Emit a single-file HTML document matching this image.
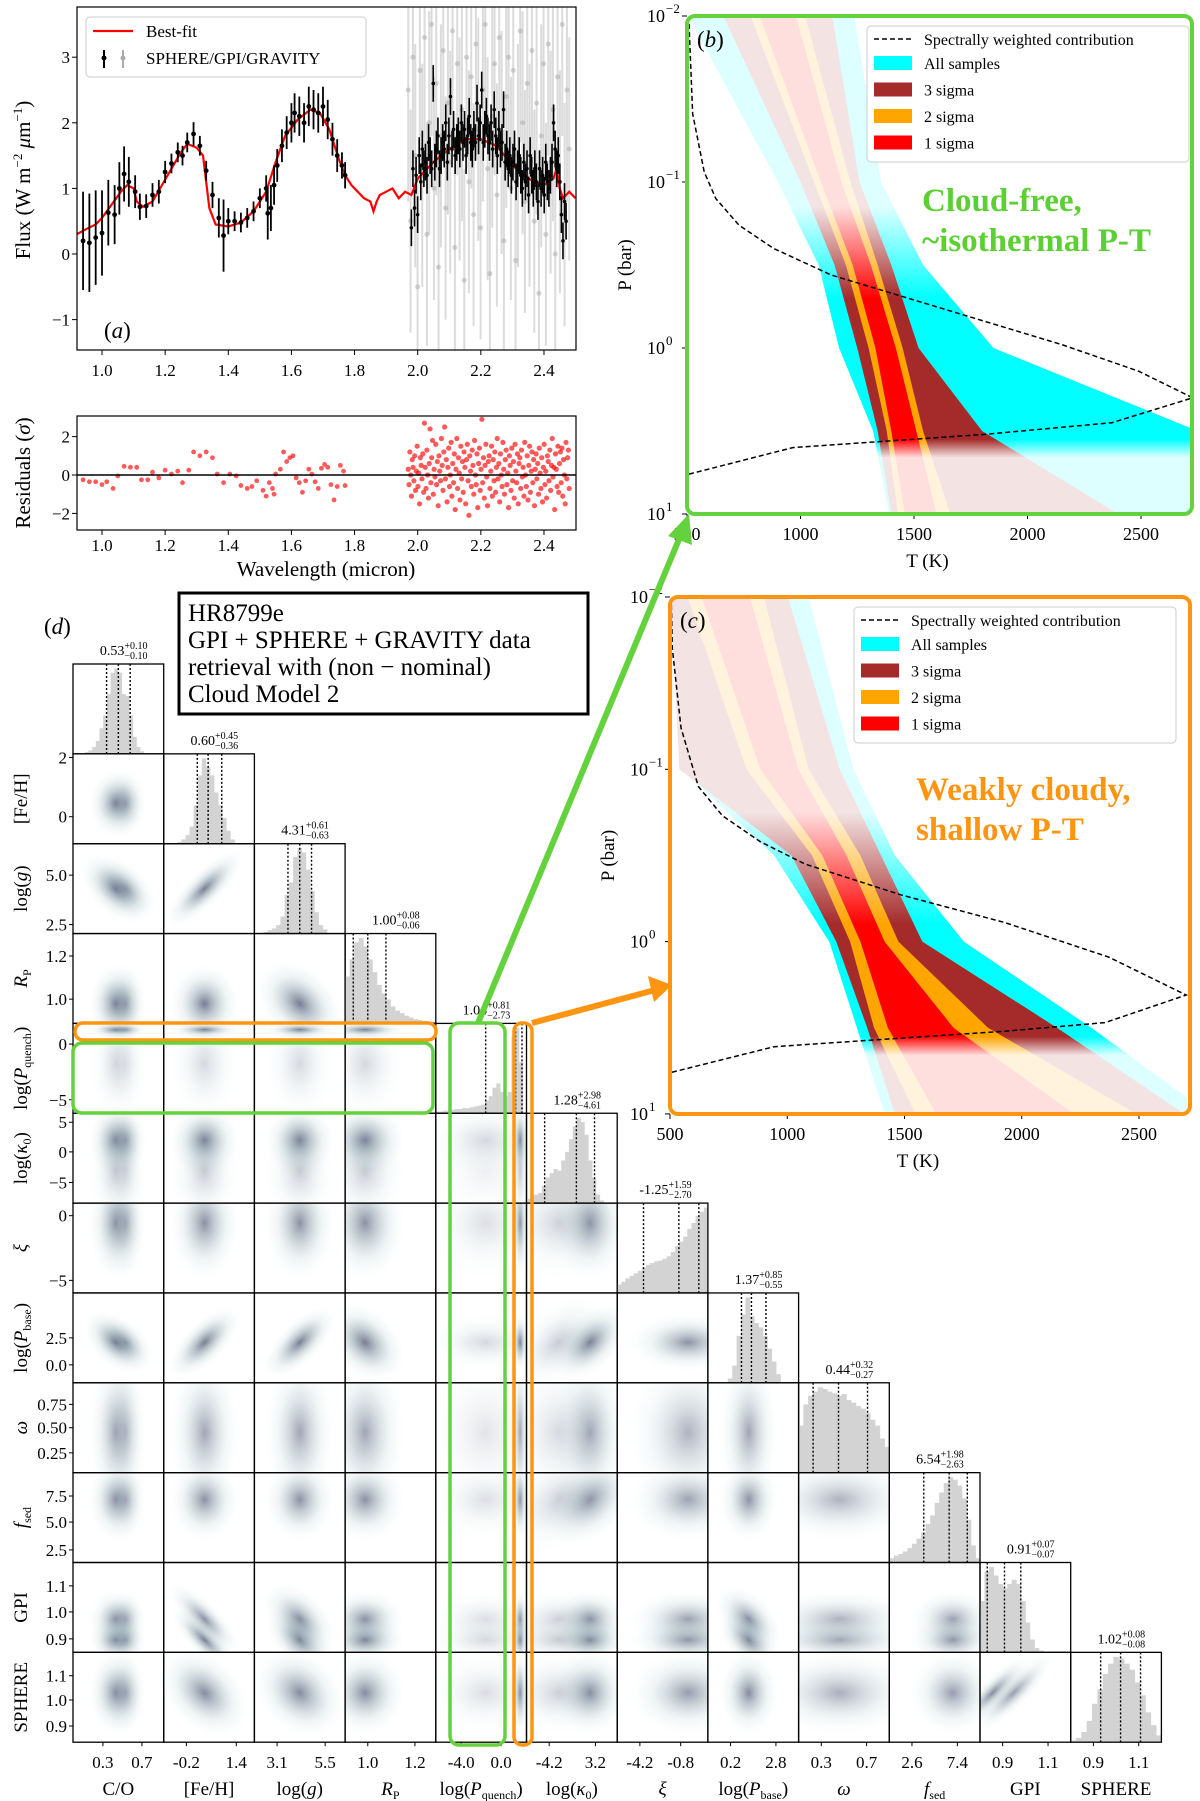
<!DOCTYPE html>
<html><head><meta charset="utf-8"><style>
html,body{margin:0;padding:0;background:#fff;}
svg{display:block;font-family:"Liberation Serif","DejaVu Serif",serif;}
</style></head><body>
<svg id="fig" width="1200" height="1801" viewBox="0 0 1200 1801" xmlns="http://www.w3.org/2000/svg">
<defs>
<clipPath id="clipA"><rect x="77" y="7" width="499" height="343"/></clipPath>
<clipPath id="clipR"><rect x="77" y="416" width="499" height="114"/></clipPath>
<clipPath id="clipB"><rect x="687" y="16" width="505" height="498" rx="8"/></clipPath>
<clipPath id="clipC"><rect x="670" y="597" width="520" height="517" rx="8"/></clipPath>
</defs>
<g id="panelA"></g>
<g id="panelB"></g>
<g id="panelC"></g>
<g id="corner"></g>
<g id="overlay"></g>
</svg>
<script>
// ---------------- DATA ----------------
const modelWl=[0.92,0.95,0.98,1.00,1.03,1.06,1.08,1.10,1.11,1.13,1.16,1.19,1.22,1.25,1.27,1.30,1.32,1.33,1.34,1.36,1.40,1.44,1.48,1.52,1.55,1.58,1.62,1.66,1.69,1.72,1.75,1.77,1.79,1.81,1.83,1.85,1.86,1.87,1.88,1.90,1.92,1.94,1.96,1.98,2.00,2.05,2.10,2.15,2.20,2.25,2.30,2.35,2.40,2.43,2.44,2.45,2.46,2.48,2.50];
const modelFlux=[0.3,0.38,0.45,0.55,0.75,0.95,1.05,1.0,0.8,0.72,0.8,1.05,1.3,1.55,1.68,1.62,1.5,1.1,0.7,0.45,0.42,0.48,0.65,0.95,1.4,1.8,2.05,2.2,2.15,1.9,1.45,1.2,1.05,0.95,0.85,0.8,0.65,0.8,0.9,0.95,1.0,0.85,0.95,0.9,1.15,1.4,1.6,1.75,1.75,1.65,1.35,1.15,1.05,1.15,1.3,1.0,0.85,0.95,0.85];
const dataWl=[0.94,0.96,0.98,1.0,1.02,1.04,1.055,1.07,1.085,1.105,1.12,1.14,1.16,1.18,1.2,1.22,1.24,1.255,1.27,1.29,1.31,1.33,1.35,1.37,1.385,1.40,1.42,1.44,1.46,1.48,1.50,1.52,1.525,1.535,1.545,1.555,1.57,1.585,1.60,1.61,1.625,1.64,1.655,1.67,1.685,1.70,1.715,1.73,1.745,1.76,1.77];
const dataFlux=[0.2,0.17,0.25,0.32,0.63,0.6,1.0,1.22,1.1,0.95,0.72,0.73,0.9,0.95,1.25,1.38,1.55,1.5,1.7,1.83,1.65,1.27,0.9,0.55,0.28,0.5,0.5,0.48,0.55,0.65,0.85,1.0,0.62,0.7,1.05,1.35,1.65,1.85,2.0,2.15,2.1,2.0,2.25,2.2,2.15,2.25,2.05,1.75,1.5,1.35,1.2];
const dataErr=[0.75,0.75,0.72,0.65,0.5,0.45,0.4,0.42,0.38,0.25,0.2,0.18,0.18,0.18,0.17,0.15,0.15,0.15,0.15,0.18,0.15,0.15,0.2,0.3,0.55,0.2,0.15,0.15,0.15,0.15,0.15,0.2,0.4,0.35,0.3,0.25,0.25,0.25,0.3,0.3,0.3,0.3,0.3,0.3,0.3,0.3,0.3,0.25,0.25,0.2,0.2];
const gravWlStart=1.98, gravWlEnd=2.47;
const gravFlux=[0.4,1.3,0.7,1.2,0.6,1.5,1.1,1.6,1.3,1.4, 1.2,1.7,1.5,1.3,2.6,1.4,1.6,1.8,1.3,1.5, 1.7,1.6,2.0,1.4,1.8,2.4,1.6,1.9,1.5,1.7, 1.8,1.6,2.0,1.7,1.9,1.5,1.8,2.1,1.7,1.6, 1.9,1.7,2.3,1.8,2.0,2.5,1.7,1.9,2.1,1.8, 1.7,2.0,1.6,2.2,1.8,1.5,1.9,1.6,1.7,2.2, 1.4,1.6,1.3,1.5,1.2,1.4,1.6,1.1,1.3,1.5, 1.2,1.0,1.4,1.1,1.3,0.9,1.5,1.2,1.0,1.3, 1.1,0.8,1.3,1.0,1.2,0.9,1.4,1.1,1.0,1.2, 1.4,2.0,1.6,1.3,1.5,1.1,0.6,0.2,0.8,0.5];
const gravErr=0.28;
const grayWlStart=1.97, grayWlEnd=2.48;
const grayFlux=[2.5,0.5,3.0,1.5,-0.5,2.8,1.2,3.3,0.3,2.0, 3.5,1.0,2.6,-0.2,1.8,3.1,0.7,2.3,1.4,3.4, 0.1,2.9,1.6,2.2,-0.4,3.0,1.1,2.7,0.6,3.2, 1.9,0.4,2.5,3.5,1.3,-0.3,2.1,2.9,0.9,3.3, 1.7,0.2,2.4,3.0,1.0,2.8,-0.1,1.5,3.4,2.0, 0.8,2.6,1.2,3.1,0.5,2.3,-0.6,1.8,2.9,0.3, 3.2,1.4,2.2,0.0,2.7,1.1,3.5,0.6,2.5,1.6];
const grayErr=1.7;
const resWl=[0.94,0.96,0.98,1.0,1.015,1.035,1.05,1.07,1.09,1.11,1.125,1.145,1.16,1.18,1.2,1.22,1.24,1.255,1.275,1.29,1.31,1.33,1.35,1.365,1.385,1.405,1.425,1.44,1.46,1.475,1.49,1.51,1.52,1.53,1.54,1.545,1.55,1.565,1.575,1.585,1.595,1.605,1.615,1.625,1.635,1.645,1.655,1.665,1.675,1.685,1.695,1.705,1.715,1.725,1.735,1.745,1.755,1.765,1.77];
const resVal=[-0.25,-0.35,-0.35,-0.5,-0.35,-0.7,-0.05,0.45,0.4,0.4,-0.25,-0.25,0.15,-0.15,0.25,0.05,0.2,-0.4,0.25,1.2,1.0,1.2,0.9,0.05,-0.4,0.05,-0.05,-0.55,-0.7,-0.6,-0.3,-0.8,-1.1,-0.4,-0.7,-1.0,0.05,0.3,1.2,0.7,0.9,1.0,-0.15,-0.4,-0.9,-0.3,0.3,0.05,-0.35,-0.7,0.35,0.55,0.4,-0.5,-1.3,-0.6,0.5,0.2,-0.55];
const resGravStart=1.97, resGravEnd=2.48;
const resGrav=[0.3,-0.5,1.2,0.0,-1.1,0.8,0.4,-0.3,1.0,-0.8,0.2,1.5,-0.6,0.1,-1.5,0.9,0.5,-0.2,1.1,-0.9,
2.7,0.4,-0.7,1.3,0.0,-1.2,0.6,2.4,-0.4,0.9,1.8,-1.0,0.3,-0.1,1.6,-0.5,0.7,-1.6,1.0,0.2,
-0.3,1.9,0.5,-0.8,1.2,2.5,-0.2,0.8,-1.4,0.4,1.4,-0.6,0.0,1.7,-1.1,0.6,-0.4,1.1,-1.8,0.3,
1.9,-0.7,0.9,0.1,-1.3,1.5,-0.2,0.7,-0.9,1.2,0.4,-1.5,0.8,1.6,-0.3,-2.1,1.0,0.2,-0.6,1.3,
0.5,-1.0,1.8,0.0,-0.5,1.1,-1.7,0.6,1.4,-0.8,0.3,2.9,-0.4,0.9,-1.2,0.5,1.6,-0.1,-1.6,0.7,
1.0,-0.7,0.2,1.5,-1.1,0.8,-0.3,1.2,-0.9,0.4,1.9,-0.2,0.6,-1.4,1.1,0.0,-0.6,1.7,0.3,-1.0,
0.8,1.3,-0.5,0.1,-1.7,1.0,0.5,-0.8,1.4,-0.3,0.7,-1.2,1.6,0.2,-0.4,1.1,-1.5,0.6,0.9,-0.7,
1.3,-0.1,0.4,-1.1,1.7,0.0,-0.6,1.0,-1.3,0.5,1.5,-0.9,0.2,1.2,-0.4,0.8,-1.6,0.3,1.1,-0.2,
0.6,-1.0,1.4,0.1,-0.7,0.9,-1.4,0.4,1.6,-0.5,0.2,-1.2,1.0,0.7,-0.3,1.3,-0.8,0.5,1.9,-0.1,
0.4,-1.8,1.1,0.3,-0.6,1.5,-0.9,0.6,1.2,-0.4,1.4,-1.1,0.8,0.0,-1.5,1.7,-0.2,0.9,1.3,-0.7];
const wlTicks=[1.0,1.2,1.4,1.6,1.8,2.0,2.2,2.4];
const fluxTicks=[-1,0,1,2,3];
const resTicks=[-2,0,2];

// PT data
const ptLogP=[-2,-1,-0.5,0,0.5,1];
const bAllL=[505,900,1080,1170,1320,1390], bAllR=[1237,1355,1540,1850,2750,3200];
const b3L=[660,1000,1150,1250,1340,1400], b3R=[1140,1260,1400,1520,1800,2400];
const b2L=[780,1060,1200,1300,1380,1430], b2R=[1020,1220,1340,1450,1540,1660];
const b1L=[820,1090,1230,1330,1400,1460], b1R=[980,1180,1310,1420,1510,1600];
const bContT=[505,508,525,576,627,729,881,1135,1474,1813,2152,2490,2728,2372,1813,966,508];
const bContP=[-2,-1.98,-1.41,-1.06,-0.90,-0.74,-0.60,-0.44,-0.30,-0.16,-0.02,0.14,0.30,0.45,0.52,0.60,0.76];
const cAllL=[503,547,944,1179,1297,1415], cAllR=[1091,1282,1459,1753,2297,2800];
const c3L=[503,540,1018,1209,1341,1459], c3R=[1003,1224,1400,1576,2150,2694];
const c2L=[576,826,1106,1268,1370,1547], c2R=[900,1091,1312,1474,1856,2488];
const c1L=[635,885,1150,1312,1429,1635], c1R=[841,1047,1253,1415,1709,2224];
const cContT=[505,510,547,621,724,885,1076,1488,1929,2371,2701,2356,1929,1488,944,503];
const cContP=[-2,-1.70,-1.24,-0.90,-0.73,-0.58,-0.45,-0.27,-0.11,0.09,0.31,0.47,0.52,0.56,0.61,0.76];
const tTicks=[500,1000,1500,2000,2500];
const pTicks=[-2,-1,0,1];

// Corner data
const paramLabels=['C/O','[Fe/H]','log(<tspan font-style="italic">g</tspan>)','<tspan font-style="italic">R</tspan><tspan dy="4" font-size="12">P</tspan>','log(<tspan font-style="italic">P</tspan><tspan dy="4" font-size="12">quench</tspan><tspan dy="-4">)</tspan>','log(<tspan font-style="italic">κ</tspan><tspan dy="4" font-size="12">0</tspan><tspan dy="-4">)</tspan>','<tspan font-style="italic">ξ</tspan>','log(<tspan font-style="italic">P</tspan><tspan dy="4" font-size="12">base</tspan><tspan dy="-4">)</tspan>','<tspan font-style="italic">ω</tspan>','<tspan font-style="italic">f</tspan><tspan dy="4" font-size="12">sed</tspan>','GPI','SPHERE'];
const medians=['0.53','0.60','4.31','1.00','1.04','1.28','-1.25','1.37','0.44','6.54','0.91','1.02'];
const errPlus=['+0.10','+0.45','+0.61','+0.08','+0.81','+2.98','+1.59','+0.85','+0.32','+1.98','+0.07','+0.08'];
const errMinus=['−0.10','−0.36','−0.63','−0.06','−2.73','−4.61','−2.70','−0.55','−0.27','−2.63','−0.07','−0.08'];
const histStart=[0.13,0.15,0.1,0,0,0,0,0.22,0,0,0,0];
const histEnd=[0.78,0.78,0.8,1,1,0.85,1,0.8,1,1,0.7,1];
const histBins=[
[0.02,0.04,0.08,0.15,0.3,0.45,0.7,0.95,1.0,0.95,0.7,0.68,0.45,0.2,0.08,0.03],
[0.02,0.05,0.1,0.2,0.45,0.8,1.0,0.9,0.8,0.6,0.45,0.3,0.15,0.05],
[0.02,0.04,0.06,0.1,0.2,0.45,0.6,0.9,1.0,0.95,0.75,0.5,0.25,0.1,0.05],
[0.55,0.75,0.95,1.0,0.9,0.75,0.6,0.45,0.35,0.28,0.2,0.15,0.12,0.09,0.07,0.05,0.04,0.03,0.02,0.02],
[0.02,0.02,0.03,0.03,0.04,0.05,0.05,0.06,0.06,0.07,0.08,0.09,0.1,0.15,0.2,0.3,0.35,0.25,0.2,0.25,0.9,1.0,0.6,0.0],
[0.05,0.08,0.1,0.12,0.2,0.3,0.35,0.4,0.38,0.5,0.6,0.75,0.9,1.0,0.95,0.8,0.5,0.3,0.1,0.03],
[0.1,0.13,0.17,0.2,0.23,0.26,0.3,0.33,0.35,0.37,0.38,0.4,0.43,0.48,0.55,0.6,0.66,0.75,0.82,0.9,0.95,1.0],
[0.05,0.2,0.55,0.8,1.0,0.78,0.7,0.65,0.55,0.4,0.25,0.1],
[0.55,0.8,0.9,0.95,1.0,0.98,0.95,0.93,0.9,0.92,0.85,0.82,0.78,0.75,0.7,0.62,0.55,0.4,0.3],
[0.05,0.08,0.1,0.13,0.17,0.22,0.28,0.35,0.45,0.55,0.7,0.82,0.93,1.0,0.97,0.9,0.75,0.5,0.2,0.05],
[0.6,0.95,1.0,0.9,0.8,0.75,0.8,0.85,0.8,0.6,0.35,0.15,0.05,0.02],
[0.02,0.05,0.12,0.25,0.45,0.62,0.8,0.92,1.0,0.98,0.92,0.85,0.7,0.55,0.35,0.2,0.08]];
const quantiles=[[0.37,0.5,0.63],[0.37,0.49,0.64],[0.37,0.5,0.63],[0.09,0.25,0.45],[0.55,0.88,0.95],[0.2,0.55,0.75],[0.29,0.68,0.9],[0.37,0.48,0.64],[0.16,0.44,0.76],[0.38,0.66,0.86],[0.08,0.27,0.45],[0.33,0.55,0.77]];
// posterior modes per parameter: [centerFrac, spreadFrac, weight]
const modes=[
[[0.47,0.1,1.0],[0.58,0.08,0.6]],
[[0.45,0.13,1.0]],
[[0.5,0.13,1.0]],
[[0.22,0.15,1.0]],
[[0.93,0.03,1.0],[0.55,0.22,0.3]],
[[0.7,0.14,1.0],[0.35,0.2,0.4]],
[[0.78,0.22,0.85]],
[[0.45,0.11,1.0]],
[[0.45,0.3,0.7]],
[[0.7,0.16,0.85]],
[[0.14,0.09,1.0],[0.37,0.11,0.85]],
[[0.55,0.16,0.9]]];
// correlations [row, col, rho]
const corrRow=[2,2,3,7,7,7,7,7,10,10,10,11,11,11,9];
const corrCol=[0,1,2,0,1,2,3,5,1,2,7,10,1,2,5];
const corrRho=[-0.6,0.85,-0.5,-0.6,0.75,0.75,-0.5,0.6,-0.85,-0.6,-0.6,0.9,-0.5,-0.4,0.5];
const rowTickLabels=[[],['2','0'],['5.0','2.5'],['1.2','1.0'],['0','−5'],['5','0','−5'],['0','−5'],['2.5','0.0'],['0.75','0.50','0.25'],['7.5','5.0','2.5'],['1.1','1.0','0.9'],['1.1','1.0','0.9']];
const rowTickFrac=[[],[0.04,0.7],[0.35,0.9],[0.25,0.73],[0.23,0.85],[0.1,0.43,0.77],[0.14,0.86],[0.5,0.8],[0.24,0.5,0.78],[0.26,0.55,0.86],[0.26,0.55,0.85],[0.26,0.53,0.82]];
const colTickLabels=[['0.3','0.7'],['-0.2','1.4'],['3.1','5.5'],['1.0','1.2'],['-4.0','0.0'],['-4.2','3.2'],['-4.2','-0.8'],['0.2','2.8'],['0.3','0.7'],['2.6','7.4'],['0.9','1.1'],['0.9','1.1']];
const colTickFrac=[[0.33,0.76],[0.25,0.8],[0.25,0.78],[0.25,0.77],[0.28,0.72],[0.25,0.76],[0.25,0.7],[0.25,0.75],[0.25,0.75],[0.25,0.75],[0.25,0.75],[0.25,0.75]];

// ---------------- HELPERS ----------------
const NS='http://www.w3.org/2000/svg';
function mk(parent,tag,attrs,name){
  const el=document.createElementNS(NS,tag);
  for(const k in attrs) el.setAttribute(k,attrs[k]);
  
  
  parent.appendChild(el);
  return el;
}
function tx(parent,x,y,html,attrs,name){
  const a=Object.assign({x:x,y:y},attrs||{});
  const el=mk(parent,'text',a,name);
  el.innerHTML=html;
  return el;
}
function lin(n,a,b){const r=[];for(let i=0;i<n;i++)r.push(a+(b-a)*i/(n-1));return r;}

// ---------------- PANEL A ----------------
const A=document.getElementById('panelA');
const xA=l=>102+(l-1.0)*315.7, yA=f=>254-f*65.6, yR=r=>475-r*19.2;
const gA=mk(A,'g',{'clip-path':'url(#clipA)'},'spectrum-plot-area');
const grayWl=lin(grayFlux.length,grayWlStart,grayWlEnd);
grayFlux.forEach((f,i)=>{
  mk(gA,'line',{x1:xA(grayWl[i]),x2:xA(grayWl[i]),y1:yA(f-grayErr),y2:yA(f+grayErr),stroke:'#999','stroke-width':2,'stroke-opacity':0.35},'gray-errorbar');
  mk(gA,'circle',{cx:xA(grayWl[i]),cy:yA(f),r:2.5,fill:'#aaa','fill-opacity':0.5},'gray-point');
});
mk(gA,'polyline',{points:modelWl.map((l,i)=>xA(l)+','+yA(modelFlux[i])).join(' '),fill:'none',stroke:'#ff0000','stroke-width':2.2},'best-fit-line');
dataWl.forEach((l,i)=>{
  mk(gA,'line',{x1:xA(l),x2:xA(l),y1:yA(dataFlux[i]-dataErr[i]),y2:yA(dataFlux[i]+dataErr[i]),stroke:'#000','stroke-width':1.8},'data-errorbar');
  mk(gA,'circle',{cx:xA(l),cy:yA(dataFlux[i]),r:2.4,fill:'#000'},'data-point');
});
const gravWl=lin(gravFlux.length,gravWlStart,gravWlEnd);
gravFlux.forEach((f,i)=>{
  mk(gA,'line',{x1:xA(gravWl[i]),x2:xA(gravWl[i]),y1:yA(f-gravErr),y2:yA(f+gravErr),stroke:'#000','stroke-width':1.6},'gravity-errorbar');
  mk(gA,'circle',{cx:xA(gravWl[i]),cy:yA(f),r:1.8,fill:'#000'},'gravity-point');
});
mk(A,'rect',{x:77,y:7,width:499,height:343,fill:'none',stroke:'#000','stroke-width':1.2},'spectrum-axes-frame');
wlTicks.forEach(t=>{
  mk(A,'line',{x1:xA(t),x2:xA(t),y1:350,y2:355,stroke:'#000'},'x-tick');
  tx(A,xA(t),376,t.toFixed(1),{'font-size':17,'text-anchor':'middle'},'x-tick-label');
  mk(A,'line',{x1:xA(t),x2:xA(t),y1:530,y2:535,stroke:'#000'},'res-x-tick');
  tx(A,xA(t),551,t.toFixed(1),{'font-size':17,'text-anchor':'middle'},'res-x-tick-label');
});
fluxTicks.forEach(t=>{
  mk(A,'line',{x1:72,x2:77,y1:yA(t),y2:yA(t),stroke:'#000'},'y-tick');
  tx(A,70,yA(t)+6,t<0?'−'+Math.abs(t):String(t),{'font-size':17,'text-anchor':'end'},'y-tick-label');
});
tx(A,0,0,'Flux (W m<tspan dy="-8" font-size="13">−2</tspan><tspan dy="8"> </tspan><tspan font-style="italic">μ</tspan>m<tspan dy="-8" font-size="13">−1</tspan><tspan dy="8">)</tspan>',{'font-size':21,'text-anchor':'middle',transform:'translate(30,180) rotate(-90)'},'y-axis-title');
mk(A,'rect',{x:86,y:17,width:280,height:60,rx:4,fill:'#fff','fill-opacity':0.8,stroke:'#ccc'},'legend-box');
mk(A,'line',{x1:93,x2:133,y1:31,y2:31,stroke:'#ff0000','stroke-width':2.2},'legend-best-fit-swatch');
tx(A,146,37,'Best-fit',{'font-size':17},'legend-best-fit-label');
mk(A,'line',{x1:104,x2:104,y1:50,y2:68,stroke:'#000','stroke-width':2},'legend-data-swatch');
mk(A,'circle',{cx:104,cy:58,r:2.5,fill:'#000'},'legend-data-dot');
mk(A,'line',{x1:123,x2:123,y1:50,y2:68,stroke:'#aaa','stroke-width':2},'legend-gray-swatch');
mk(A,'circle',{cx:123,cy:58,r:2.5,fill:'#aaa'},'legend-gray-dot');
tx(A,146,64,'SPHERE/GPI/GRAVITY',{'font-size':17},'legend-data-label');
tx(A,104,338,'(<tspan font-style="italic">a</tspan>)',{'font-size':23},'panel-a-label');
const gR=mk(A,'g',{'clip-path':'url(#clipR)'},'residual-plot-area');
resWl.forEach((l,i)=>mk(gR,'circle',{cx:xA(l),cy:yR(resVal[i]),r:2.4,fill:'#ff0000','fill-opacity':0.65},'residual-point'));
const rgWl=lin(resGrav.length,resGravStart,resGravEnd);
resGrav.forEach((r,i)=>mk(gR,'circle',{cx:xA(rgWl[i]),cy:yR(r),r:2.6,fill:'#ff0000','fill-opacity':0.65},'residual-gravity-point'));
mk(A,'line',{x1:77,x2:576,y1:yR(0),y2:yR(0),stroke:'#000','stroke-width':1.6},'residual-zero-line');
mk(A,'rect',{x:77,y:416,width:499,height:114,fill:'none',stroke:'#000','stroke-width':1.2},'residual-axes-frame');
resTicks.forEach(t=>{
  mk(A,'line',{x1:72,x2:77,y1:yR(t),y2:yR(t),stroke:'#000'},'res-y-tick');
  tx(A,70,yR(t)+6,t<0?'−'+Math.abs(t):String(t),{'font-size':17,'text-anchor':'end'},'res-y-tick-label');
});
tx(A,0,0,'Residuals (<tspan font-style="italic">σ</tspan>)',{'font-size':21,'text-anchor':'middle',transform:'translate(30,473) rotate(-90)'},'residual-y-title');
tx(A,326,576,'Wavelength (micron)',{'font-size':21,'text-anchor':'middle'},'x-axis-title');

// ---------------- PT PANELS ----------------
function ptPanel(G,box,T0,pxK,pxDec,bands,contT,contP,clip,strongTop,strongBot,fadeTop,fadeBot,frameColor,label,annot,annotColor,annotXY,legXY,name){
  const xs=T=>box.x+(T-T0)*pxK, ys=p=>box.y+(p+2)*pxDec;
  const gid='g'+name, mid='m'+name;
  const defs=mk(G,'defs',{},'defs');
  const lg=mk(defs,'linearGradient',{id:gid,x1:0,y1:box.y,x2:0,y2:box.y+box.h,gradientUnits:'userSpaceOnUse'},'fade-gradient');
  const off=p=>((ys(p)-box.y)/box.h).toFixed(4);
  [[0,0.13],[off(fadeTop),0.13],[off(strongTop),1],[off(strongBot),1],[off(fadeBot),0.13],[1,0.13]].forEach(s=>mk(lg,'stop',{offset:s[0],'stop-color':'#fff','stop-opacity':s[1]},'stop'));
  const m=mk(defs,'mask',{id:mid,maskUnits:'userSpaceOnUse',x:0,y:0,width:1200,height:1801},'fade-mask');
  mk(m,'rect',{x:box.x,y:box.y,width:box.w,height:box.h,fill:'url(#'+gid+')'},'mask-rect');
  const g=mk(G,'g',{'clip-path':'url(#'+clip+')'},'pt-plot-area');
  const gb=mk(g,'g',{mask:'url(#'+mid+')'},'pt-bands');
  const colors=['#00ffff','#a52a2a','#ffa500','#ff0000'], names=['all-samples-band','3-sigma-band','2-sigma-band','1-sigma-band'];
  bands.forEach((b,k)=>{
    const pts=b[0].map((t,i)=>xs(t)+','+ys(ptLogP[i])).concat(b[1].map((t,i)=>xs(t)+','+ys(ptLogP[i])).reverse());
    mk(gb,'polygon',{points:pts.join(' '),fill:colors[k]},names[k]);
  });
  mk(g,'polyline',{points:contT.map((t,i)=>xs(t)+','+ys(contP[i])).join(' '),fill:'none',stroke:'#000','stroke-width':1.5,'stroke-dasharray':'5,3'},'contribution-line');
  tTicks.forEach(t=>{
    mk(G,'line',{x1:xs(t),x2:xs(t),y1:box.y+box.h,y2:box.y+box.h+5,stroke:'#000'},'t-tick');
    tx(G,xs(t),box.y+box.h+26,String(t),{'font-size':18,'text-anchor':'middle'},'t-tick-label');
  });
  pTicks.forEach(p=>{
    mk(G,'line',{x1:box.x-5,x2:box.x,y1:ys(p),y2:ys(p),stroke:'#000'},'p-tick');
    tx(G,box.x-22,ys(p)+6,'10',{'font-size':18,'text-anchor':'end'},'p-tick-label');
    tx(G,box.x-21,ys(p)-3,p<0?'−'+Math.abs(p):String(p),{'font-size':13},'p-tick-exponent');
  });
  tx(G,box.x+box.w/2-12,box.y+box.h+53,'T (K)',{'font-size':19,'text-anchor':'middle'},'t-axis-title');
  tx(G,0,0,'P (bar)',{'font-size':19,'text-anchor':'middle',transform:'translate('+(box.x-56)+','+(box.y+box.h/2)+') rotate(-90)'},'p-axis-title');
  mk(G,'rect',{x:box.x,y:box.y,width:box.w,height:box.h,rx:8,fill:'none',stroke:frameColor,'stroke-width':4},'panel-frame');
  tx(G,box.x+10,box.y+31,'(<tspan font-style="italic">'+label+'</tspan>)',{'font-size':23},'panel-label');
  const L=mk(G,'g',{},'pt-legend');
  const lx=legXY[0], ly=legXY[1];
  mk(L,'rect',{x:lx,y:ly,width:322,height:136,rx:4,fill:'#fff','fill-opacity':0.85,stroke:'#ccc'},'legend-box');
  mk(L,'line',{x1:lx+7,x2:lx+45,y1:ly+13,y2:ly+13,stroke:'#000','stroke-width':1.5,'stroke-dasharray':'5,3'},'legend-contribution-swatch');
  tx(L,lx+57,ly+19,'Spectrally weighted contribution',{'font-size':16},'legend-contribution-label');
  const ln=['All samples','3 sigma','2 sigma','1 sigma'];
  ln.forEach((s,k)=>{
    mk(L,'rect',{x:lx+7,y:ly+30+k*26.5,width:38,height:14,fill:colors[k]},'legend-swatch');
    tx(L,lx+57,ly+43+k*26.5,s,{'font-size':16},'legend-label');
  });
  tx(G,annotXY[0],annotXY[1],annot[0],{'font-size':33,'font-weight':'bold',fill:annotColor},'annotation-line1');
  tx(G,annotXY[0],annotXY[1]+40,annot[1],{'font-size':33,'font-weight':'bold',fill:annotColor},'annotation-line2');
}
ptPanel(document.getElementById('panelB'),{x:687,y:16,w:505,h:498},500,0.227,166,
  [[bAllL,bAllR],[b3L,b3R],[b2L,b2R],[b1L,b1R]],bContT,bContP,'clipB',-0.3,0.55,-0.85,0.66,'#64d23c','b',
  ['Cloud-free,','~isothermal P-T'],'#5ccf33',[922,211],[867,26],'B');
ptPanel(document.getElementById('panelC'),{x:670,y:597,w:520,h:517},500,0.2345,172.3,
  [[cAllL,cAllR],[c3L,c3R],[c2L,c2R],[c1L,c1R]],cContT,cContP,'clipC',-0.1,0.55,-0.75,0.66,'#ff9410','c',
  ['Weakly cloudy,','shallow P-T'],'#ff9410',[916,800],[854,607],'C');

// ---------------- CORNER ----------------
const K=document.getElementById('corner');
const X0=73,Y0=664,CW=90.7,CH=89.85,N=12;
const cdefs=mk(K,'defs',{},'corner-defs');
const rg=mk(cdefs,'radialGradient',{id:'blob'},'blob-gradient');
[[0,'#3a3f62',0.8],[0.3,'#5d7587',0.5],[0.65,'#a4c0c4',0.22],[1,'#d4e4e6',0]].forEach(s=>mk(rg,'stop',{offset:s[0],'stop-color':s[1],'stop-opacity':s[2]},'stop'));
function corr(i,j){for(let k=0;k<corrRow.length;k++) if(corrRow[k]===i&&corrCol[k]===j) return corrRho[k]; return 0;}
for(let i=0;i<N;i++){
  for(let j=0;j<=i;j++){
    const x=X0+j*CW, y=Y0+i*CH;
    if(i===j){
      const bins=histBins[i], a=histStart[i], b=histEnd[i], bw=(b-a)/bins.length*CW;
      bins.forEach((h,k)=>mk(K,'rect',{x:x+a*CW+k*bw,y:y+CH-h*0.95*CH,width:bw+0.4,height:h*0.95*CH,fill:'#d3d3d3'},'hist-bar'));
      quantiles[i].forEach(q=>mk(K,'line',{x1:x+q*CW,x2:x+q*CW,y1:y,y2:y+CH,stroke:'#000','stroke-width':1.4,'stroke-dasharray':'2,2'},'quantile-line'));
      const cx=x+CW/2;
      tx(K,cx+6,y-9,medians[i],{'font-size':14,'text-anchor':'end'},'hist-title-median');
      tx(K,cx+6,y-15,errPlus[i],{'font-size':10},'hist-title-plus');
      tx(K,cx+6,y-5,errMinus[i],{'font-size':10},'hist-title-minus');
    } else {
      const cid='cell'+i+'_'+j;
      const cp=mk(cdefs,'clipPath',{id:cid},'cell-clip');
      mk(cp,'rect',{x:x,y:y,width:CW,height:CH},'cell-clip-rect');
      const g=mk(K,'g',{'clip-path':'url(#'+cid+')'},'density-cell');
      const rho=corr(i,j);
      modes[j].forEach(mj=>modes[i].forEach(mi=>{
        const cx=x+mj[0]*CW, cy=y+(1-mi[0])*CH;
        let rx=mj[1]*CW*2.9, ry=mi[1]*CH*2.9, ang=0;
        if(rho!==0){const s=(rx+ry)/2; rx=s*Math.sqrt(1+Math.abs(rho))*1.1; ry=s*Math.sqrt(1-Math.abs(rho))*1.3; ang=rho>0?-45:45;}
        mk(g,'ellipse',{cx:cx,cy:cy,rx:rx,ry:ry,fill:'url(#blob)',opacity:Math.min(1,mi[2]*mj[2]*0.85),transform:'rotate('+ang+' '+cx+' '+cy+')'},'density-blob');
      }));
    }
    mk(K,'rect',{x:x,y:y,width:CW,height:CH,fill:'none',stroke:'#000','stroke-width':1.3},'cell-frame');
  }
}
for(let i=1;i<N;i++){
  rowTickLabels[i].forEach((s,k)=>{
    const yy=Y0+i*CH+rowTickFrac[i][k]*CH;
    mk(K,'line',{x1:X0-4,x2:X0,y1:yy,y2:yy,stroke:'#000'},'row-tick');
    tx(K,X0-6,yy+6,s,{'font-size':17,'text-anchor':'end'},'row-tick-label');
  });
  tx(K,0,0,paramLabels[i],{'font-size':19,'text-anchor':'middle',transform:'translate(27,'+(Y0+i*CH+CH/2)+') rotate(-90)'},'row-label');
}
for(let j=0;j<N;j++){
  colTickLabels[j].forEach((s,k)=>{
    const xx=X0+j*CW+colTickFrac[j][k]*CW;
    mk(K,'line',{x1:xx,x2:xx,y1:Y0+N*CH,y2:Y0+N*CH+4,stroke:'#000'},'col-tick');
    tx(K,xx,1768,s,{'font-size':17,'text-anchor':'middle'},'col-tick-label');
  });
  tx(K,X0+j*CW+CW/2,1795,paramLabels[j],{'font-size':19,'text-anchor':'middle'},'col-label');
}
tx(K,44,634,'(<tspan font-style="italic">d</tspan>)',{'font-size':23},'panel-d-label');

// ---------------- OVERLAY ----------------
const O=document.getElementById('overlay');
mk(O,'rect',{x:179,y:593,width:409,height:121,fill:'#fff',stroke:'#000','stroke-width':3},'info-box');
['HR8799e','GPI + SPHERE + GRAVITY data','retrieval with (non − nominal)','Cloud Model 2'].forEach((s,k)=>tx(O,188,621+k*27,s,{'font-size':25},'info-line'));
mk(O,'rect',{x:75,y:1023,width:361,height:17,rx:8,fill:'none',stroke:'#ff9410','stroke-width':3.5},'orange-row-highlight');
mk(O,'rect',{x:73,y:1043,width:360,height:70,rx:9,fill:'none',stroke:'#64d23c','stroke-width':3.5},'green-row-highlight');
mk(O,'rect',{x:450,y:1023,width:55,height:722,rx:9,fill:'none',stroke:'#64d23c','stroke-width':3.5},'green-column-highlight');
mk(O,'rect',{x:514,y:1023,width:18,height:722,rx:8,fill:'none',stroke:'#ff9410','stroke-width':3.5},'orange-column-highlight');
mk(O,'line',{x1:478,y1:1023,x2:682,y2:532,stroke:'#64d23c','stroke-width':6},'green-arrow-shaft');
mk(O,'polygon',{points:'689,514 668,536 692,545',fill:'#64d23c'},'green-arrow-head');
mk(O,'line',{x1:532,y1:1023,x2:655,y2:990,stroke:'#ff9410','stroke-width':6},'orange-arrow-shaft');
mk(O,'polygon',{points:'672,985 648,976 654,1002',fill:'#ff9410'},'orange-arrow-head');
</script>
</body></html>
